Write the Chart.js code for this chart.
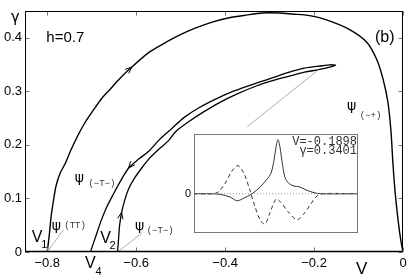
<!DOCTYPE html>
<html>
<head>
<meta charset="utf-8">
<script src="https://cdn.jsdelivr.net/npm/chart.js@4"></script>
<style>
  body { margin: 0; background: #fff; }
  #wrap { position: relative; width: 415px; height: 277px; }
  #main { position: absolute; left: 0; top: 0; }
  #inset { position: absolute; left: 176px; top: 124px; }
</style>
</head>
<body>
<div id="wrap">
  <canvas id="main" width="415" height="277"></canvas>
  <canvas id="inset" width="184" height="118"></canvas>
</div>
<script>
// Axis ticks
const xTicks = [-0.8, -0.6, -0.4, -0.2, 0];
const xTickLabels = ['\u22120.8', '\u22120.6', '\u22120.4', '\u22120.2', '0'];
const yTicks = [0, 0.1, 0.2, 0.3, 0.4];
const yTickLabels = ['0', '0.1', '0.2', '0.3', '0.4'];

// Outer branch psi(-+), from V1 up and over to V=0
const outerV = [-0.800, -0.7955, -0.791, -0.786, -0.780, -0.771, -0.759, -0.748, -0.732, -0.714,
                -0.696, -0.678, -0.658, -0.640, -0.610, -0.572, -0.542, -0.504, -0.466, -0.429,
                -0.391, -0.353, -0.316, -0.278, -0.249, -0.210, -0.172, -0.120, -0.081, -0.059,
                -0.045, -0.034, -0.027, -0.023, -0.018, -0.011, -0.005, 0];
const outerG = [0, 0.031, 0.068, 0.096, 0.124, 0.147, 0.166, 0.188, 0.216, 0.243,
                0.265, 0.286, 0.304, 0.321, 0.345, 0.372, 0.387, 0.404, 0.418, 0.429,
                0.437, 0.442, 0.446, 0.446, 0.444, 0.441, 0.433, 0.415, 0.391, 0.359,
                0.323, 0.280, 0.225, 0.170, 0.114, 0.059, 0.022, 0];

// Loop: from V2 up to the tip, then back down to V4
const loopV = [-0.6418, -0.6395, -0.6373, -0.6328, -0.6260, -0.6169, -0.6034, -0.5876, -0.5718, -0.5492,
               -0.5266, -0.5107, -0.4814, -0.4475, -0.4136, -0.3729, -0.3299, -0.2893, -0.2554, -0.2215,
               -0.1898, -0.1650, -0.1514,
               -0.1650, -0.1808, -0.2215, -0.2554, -0.2893, -0.3299, -0.3797, -0.4203, -0.4588, -0.4927,
               -0.5198, -0.5492, -0.5718, -0.5944, -0.6169, -0.6350, -0.6508, -0.6667, -0.6802, -0.6915, -0.7029];
const loopG = [0, 0.0258, 0.0498, 0.0737, 0.0959, 0.1180, 0.1382, 0.1567, 0.1733, 0.1917,
               0.2083, 0.2249, 0.2433, 0.2618, 0.2783, 0.2949, 0.3097, 0.3207, 0.3281, 0.3355,
               0.3401, 0.3447, 0.3484,
               0.3493, 0.3475, 0.3429, 0.3355, 0.3263, 0.3152, 0.3005, 0.2857, 0.2691, 0.2507,
               0.2304, 0.2083, 0.1880, 0.1733, 0.1567, 0.1327, 0.1088, 0.0829, 0.0553, 0.0276, 0];

// Thin pointer lines
const pointTTV = [-0.800, -0.764];
const pointTTG = [0, 0.041];
const pointTV = [-0.6418, -0.5876];
const pointTG = [0, 0.035];
const pointInsetV = [-0.1898, -0.350];
const pointInsetG = [0.3401, 0.234];

// Inset profile
const solidX = [-10, -8.05, -6.83, -5.61, -4.76, -3.90, -2.93, -1.95, -1.10, -0.61, -0.24, 0.0, 0.24,
                0.49, 0.73, 1.10, 1.59, 2.20, 2.80, 3.54, 4.39, 5.37, 10];
const solidY = [0, 0, -0.01, -0.06, -0.13, -0.08, 0.0, 0.12, 0.27, 0.38, 0.62, 0.86, 1.0,
                0.86, 0.60, 0.30, 0.19, 0.14, 0.13, 0.08, 0.03, 0.0, 0];
const dashX = [-10, -7.80, -7.07, -6.22, -5.37, -4.63, -3.90, -3.17, -2.56, -1.95, -1.34, -0.73, 0.0,
               0.61, 1.46, 2.56, 3.41, 4.15, 4.88, 5.61, 10];
const dashY = [0, 0, 0.03, 0.19, 0.42, 0.52, 0.37, 0.06, -0.24, -0.48, -0.56, -0.35, -0.10,
               -0.16, -0.33, -0.48, -0.37, -0.21, -0.06, 0, 0];

const toXY = (xs, ys) => xs.map((x, i) => ({ x: x, y: ys[i] }));

// Text placed in data coordinates of the main chart
const notes = [
  { t: '\u03b3', v: -0.872, g: 0.437, font: '15px "DejaVu Sans"', align: 'center' },
  { t: 'V', v: -0.0927, g: -0.0332, font: '17px "Liberation Sans"', align: 'center' },
  { t: 'h=0.7', v: -0.802, g: 0.400, font: '15px "Liberation Sans"', align: 'left' },
  { t: '(b)', v: -0.041, g: 0.400, font: '16px "Liberation Sans"', align: 'center' },
  { t: 'V', v: -0.8226, g: 0.0276, font: '16px "Liberation Sans"', align: 'center' },
  { t: '1', v: -0.8068, g: 0.0129, font: '11px "Liberation Sans"', align: 'center' },
  { t: 'V', v: -0.6689, g: 0.0258, font: '16px "Liberation Sans"', align: 'center' },
  { t: '2', v: -0.6531, g: 0.0111, font: '11px "Liberation Sans"', align: 'center' },
  { t: 'V', v: -0.7028, g: -0.0221, font: '16px "Liberation Sans"', align: 'center' },
  { t: '4', v: -0.6847, g: -0.0369, font: '11px "Liberation Sans"', align: 'center' },
  { t: '\u03c8', v: -0.7277, g: 0.1382, font: '14px "DejaVu Sans"', align: 'center' },
  { t: '(\u2212T\u2212)', v: -0.7073, g: 0.1272, font: '9px "Liberation Mono"', align: 'left', color: '#333' },
  { t: '\u03c8', v: -0.7797, g: 0.0479, font: '14px "DejaVu Sans"', align: 'center' },
  { t: '(TT)', v: -0.7616, g: 0.0498, font: '9px "Liberation Mono"', align: 'left', color: '#333' },
  { t: '\u03c8', v: -0.5921, g: 0.0479, font: '14px "DejaVu Sans"', align: 'center' },
  { t: '(\u2212T\u2212)', v: -0.5763, g: 0.0396, font: '9px "Liberation Mono"', align: 'left', color: '#333' },
  { t: '\u03c8', v: -0.1153, g: 0.2710, font: '14px "DejaVu Sans"', align: 'center' },
  { t: '(\u2212+)', v: -0.0972, g: 0.2544, font: '9px "Liberation Mono"', align: 'left', color: '#333' }
];

// Arrowheads: dataset index, point index
const arrows = [
  { ds: 3, i: 14 },
  { ds: 4, i: 3 },
  { ds: 4, i: 37 }
];

// Frame with inward ticks on all sides
const framePlugin = {
  id: 'frame',
  afterDatasetsDraw(chart) {
    const { ctx, chartArea: a, scales: { x, y } } = chart;
    const L = Math.round(a.left) + 0.5, R = Math.round(a.right) - 0.5;
    const T = Math.round(a.top) + 0.5, B = Math.round(a.bottom) - 0.5;
    ctx.save();
    ctx.strokeStyle = '#777';
    ctx.lineWidth = 1;
    ctx.beginPath();
    xTicks.forEach(v => {
      const px = Math.round(x.getPixelForValue(v)) + 0.5;
      ctx.moveTo(px, B); ctx.lineTo(px, B - 4);
      ctx.moveTo(px, T); ctx.lineTo(px, T + 4);
    });
    yTicks.forEach(v => {
      const py = Math.round(y.getPixelForValue(v)) + 0.5;
      ctx.moveTo(L, py); ctx.lineTo(L + 4, py);
      ctx.moveTo(R, py); ctx.lineTo(R - 4, py);
    });
    ctx.stroke();
    ctx.strokeStyle = '#000';
    ctx.strokeRect(L, T, R - L, B - T);
    ctx.lineWidth = 1.5;
    ctx.beginPath();
    ctx.moveTo(L, B); ctx.lineTo(R, B);
    ctx.stroke();
    ctx.restore();
  }
};

// Arrowheads along the curves
const arrowPlugin = {
  id: 'arrows',
  afterDatasetsDraw(chart) {
    const ctx = chart.ctx;
    ctx.save();
    ctx.strokeStyle = '#000';
    ctx.lineWidth = 1;
    arrows.forEach(a => {
      const pts = chart.getDatasetMeta(a.ds).data;
      const p = pts[a.i], p0 = pts[a.i - 1], p1 = pts[a.i + 1];
      const ang = Math.atan2(p1.y - p0.y, p1.x - p0.x);
      const s = 7;
      ctx.beginPath();
      ctx.moveTo(p.x - s * Math.cos(ang - 0.4), p.y - s * Math.sin(ang - 0.4));
      ctx.lineTo(p.x, p.y);
      ctx.lineTo(p.x - s * Math.cos(ang + 0.4), p.y - s * Math.sin(ang + 0.4));
      ctx.stroke();
    });
    ctx.restore();
  }
};

// Text labels
const notesPlugin = {
  id: 'notes',
  afterDraw(chart) {
    const { ctx, scales: { x, y } } = chart;
    ctx.save();
    ctx.textBaseline = 'middle';
    notes.forEach(n => {
      ctx.font = n.font;
      ctx.fillStyle = n.color || '#000';
      ctx.textAlign = n.align;
      ctx.fillText(n.t, x.getPixelForValue(n.v), y.getPixelForValue(n.g));
    });
    ctx.restore();
  }
};

function lineSet(data, color, width, extra) {
  return Object.assign({
    data: data,
    showLine: true,
    borderColor: color,
    borderWidth: width,
    pointRadius: 0,
    tension: 0.3,
    fill: false
  }, extra || {});
}

function renderMain() {
  const tickFont = { family: 'Liberation Sans', size: 13 };
  new Chart(document.getElementById('main'), {
    type: 'scatter',
    data: {
      datasets: [
        lineSet(toXY(pointTTV, pointTTG), '#999', 0.8, { tension: 0 }),
        lineSet(toXY(pointTV, pointTG), '#999', 0.8, { tension: 0 }),
        lineSet(toXY(pointInsetV, pointInsetG), '#999', 0.8, { tension: 0 }),
        lineSet(toXY(outerV, outerG), '#000', 1.4),
        lineSet(toXY(loopV, loopG), '#000', 1.3)
      ]
    },
    options: {
      responsive: false,
      animation: false,
      events: [],
      layout: { padding: { top: 8, right: 12, left: 0, bottom: 0 } },
      plugins: { legend: { display: false }, tooltip: { enabled: false } },
      scales: {
        x: {
          type: 'linear', min: -0.85, max: 0,
          afterBuildTicks: s => { s.ticks = xTicks.map(v => ({ value: v })); },
          afterFit: s => { s.height = 25; },
          grid: { display: false, drawTicks: false },
          border: { display: false },
          ticks: { callback: (v, i) => xTickLabels[i], font: tickFont, color: '#000', padding: 4, maxRotation: 0, autoSkip: false }
        },
        y: {
          type: 'linear', min: 0, max: 0.45,
          afterBuildTicks: s => { s.ticks = yTicks.map(v => ({ value: v })); },
          afterFit: s => { s.width = 25; },
          grid: { display: false, drawTicks: false },
          border: { display: false },
          ticks: { callback: (v, i) => yTickLabels[i], font: tickFont, color: '#000', padding: 3, autoSkip: false }
        }
      }
    },
    plugins: [framePlugin, arrowPlugin, notesPlugin]
  });
}

// Inset box, background and readout text
const insetPlugin = {
  id: 'insetBox',
  beforeDraw(chart) {
    const { ctx, chartArea: a } = chart;
    ctx.save();
    ctx.fillStyle = '#fff';
    ctx.fillRect(a.left, a.top, a.right - a.left, a.bottom - a.top);
    ctx.restore();
  },
  afterDraw(chart) {
    const { ctx, chartArea: a, scales: { x, y } } = chart;
    ctx.save();
    ctx.strokeStyle = '#777';
    ctx.lineWidth = 1;
    ctx.strokeRect(Math.round(a.left) + 0.5, Math.round(a.top) + 0.5,
                   Math.round(a.right - a.left) - 1, Math.round(a.bottom - a.top) - 1);
    ctx.fillStyle = '#333';
    ctx.font = '12px "Liberation Mono"';
    ctx.textAlign = 'right';
    ctx.textBaseline = 'middle';
    ctx.fillText('V=-0.1898', x.getPixelForValue(9.88), y.getPixelForValue(0.952));
    ctx.fillText('\u03b3=0.3401', x.getPixelForValue(9.88), y.getPixelForValue(0.794));
    ctx.restore();
  }
};

function renderInset() {
  new Chart(document.getElementById('inset'), {
    type: 'scatter',
    data: {
      datasets: [
        lineSet([{ x: -10, y: 0 }, { x: 10, y: 0 }], '#999', 1, { tension: 0, borderDash: [1, 2] }),
        lineSet(toXY(dashX, dashY), '#333', 1, { borderDash: [4, 3] }),
        lineSet(toXY(solidX, solidY), '#333', 1)
      ]
    },
    options: {
      responsive: false,
      animation: false,
      events: [],
      layout: { padding: { top: 1, right: 2, left: 0, bottom: 2 } },
      plugins: { legend: { display: false }, tooltip: { enabled: false } },
      scales: {
        x: { type: 'linear', min: -10, max: 10, display: false },
        y: {
          type: 'linear', min: -0.714, max: 1.111,
          afterBuildTicks: s => { s.ticks = [{ value: 0 }]; },
          afterFit: s => { s.width = 18; },
          grid: { display: false, drawTicks: false },
          border: { display: false },
          ticks: { callback: () => '0', font: { family: 'Liberation Sans', size: 11 }, color: '#000', padding: 3 }
        }
      }
    },
    plugins: [insetPlugin]
  });
}

renderMain();
renderInset();
</script>
</body>
</html>
